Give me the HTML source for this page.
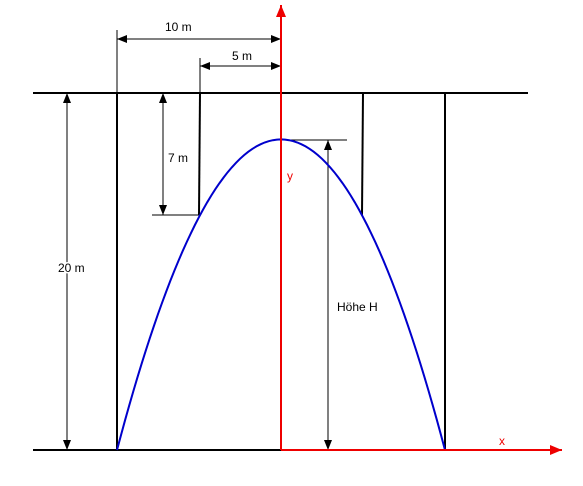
<!DOCTYPE html>
<html><head><meta charset="utf-8"><style>body{margin:0;background:#fff}svg{display:block;font-family:"Liberation Sans",sans-serif;font-size:12px}</style></head>
<body>
<svg width="583" height="486" viewBox="0 0 583 486">
<defs>
<marker id="ab" markerWidth="10" markerHeight="8" refX="10" refY="4" orient="auto-start-reverse" markerUnits="userSpaceOnUse"><path d="M0,0L10,4L0,8z" fill="#000"/></marker>
<marker id="ar" markerWidth="12" markerHeight="10" refX="12" refY="5" orient="auto" markerUnits="userSpaceOnUse"><path d="M0,0L12,5L0,10z" fill="#e00"/></marker>
</defs>
<g id="g" stroke="#000" stroke-width="2" fill="none">
<line x1="33" y1="450" x2="281" y2="450"/>
<line x1="33" y1="93" x2="528" y2="93"/>
<line x1="117" y1="93" x2="117" y2="450"/>
<line x1="445" y1="93" x2="445" y2="450"/>
<line x1="200" y1="93" x2="199" y2="215"/>
<line x1="363" y1="93" x2="362" y2="215"/>
</g>
<g stroke="#000" stroke-width="1" fill="none">
<line x1="117" y1="30" x2="117" y2="93"/>
<line x1="200" y1="58" x2="200" y2="93"/>
<line x1="117" y1="39" x2="281" y2="39" marker-start="url(#ab)" marker-end="url(#ab)"/>
<line x1="200" y1="66" x2="281" y2="66" marker-start="url(#ab)" marker-end="url(#ab)"/>
<line x1="152" y1="215" x2="200" y2="215"/>
<line x1="163" y1="93" x2="163" y2="215" marker-start="url(#ab)" marker-end="url(#ab)"/>
<line x1="67" y1="93" x2="67" y2="450" marker-start="url(#ab)" marker-end="url(#ab)"/>
<line x1="281" y1="140" x2="347" y2="140"/>
<line x1="328" y1="140" x2="328" y2="450" marker-start="url(#ab)" marker-end="url(#ab)"/>
</g>
<path id="para" fill="none" stroke="#0000cc" stroke-width="2"/>
<line x1="281" y1="450" x2="281" y2="5" stroke="#e00" stroke-width="2" marker-end="url(#ar)"/>
<line x1="281" y1="450" x2="562" y2="450" stroke="#e00" stroke-width="2" marker-end="url(#ar)"/>
<text x="165" y="31">10 m</text>
<text x="232" y="60">5 m</text>
<text x="168" y="162">7 m</text>
<text x="58" y="272" fill="#000" style="paint-order:stroke" stroke="#fff" stroke-width="3">20 m</text>
<text x="337" y="311" style="paint-order:stroke" stroke="#fff" stroke-width="3">Höhe H</text>
<text x="287" y="180" fill="#e00">y</text>
<text x="499" y="445" fill="#e00">x</text>
</svg>
<script>
const halfSpan=[10];      // m
const archHeight=[17.4];  // m
const sx=16.4, cx=281, base=450, sy=17.85;
let d='';
for(let i=0;i<=80;i++){const x=-halfSpan[0]+i*2*halfSpan[0]/80;const y=archHeight[0]*(1-(x/halfSpan[0])**2);
d+=(i?'L':'M')+(cx+x*sx).toFixed(1)+','+(base-y*sy).toFixed(1);}
document.getElementById('para').setAttribute('d',d);
</script>
</body></html>
